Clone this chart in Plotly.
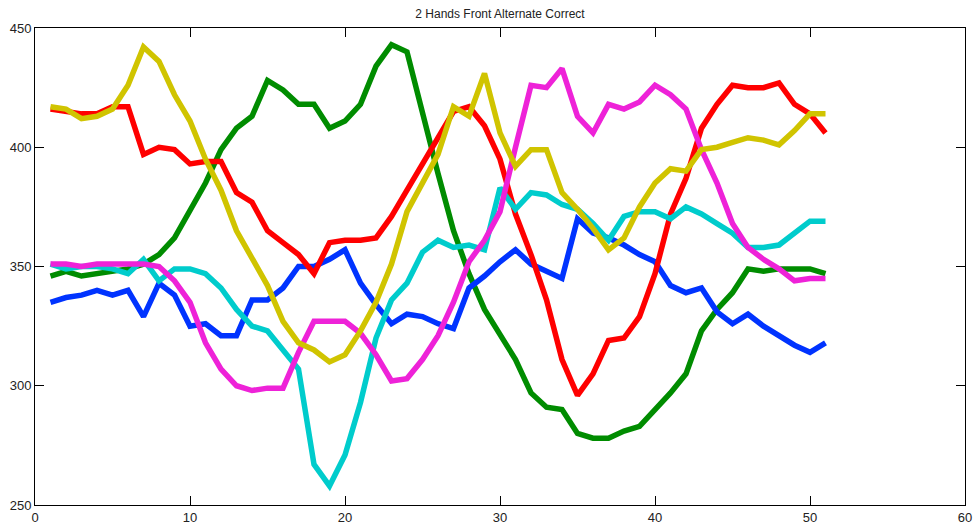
import plotly.graph_objects as go

x_vals = list(range(1, 52))

green = [346, 348, 346, 347, 348, 349, 351, 355, 362, 373, 385, 399, 408, 413, 428, 424, 418, 418, 408, 411,
         418, 434, 443, 440, 414, 389, 365, 347, 332, 321, 311, 297, 291, 290, 280, 278, 278, 281, 283, 290,
         297, 305, 323, 332, 339, 349, 348, 349, 349, 349, 347]
blue = [335, 337, 338, 340, 338, 340, 329, 343, 338, 325, 326, 321, 321, 336, 336, 341, 350, 350, 353, 357,
        343, 334, 326, 330, 329, 326, 324, 341, 346, 352, 357, 351, 348, 345, 370, 364, 362, 359, 355, 352,
        342, 339, 341, 331, 326, 330, 325, 321, 317, 314, 318]
red = [416, 415, 414, 414, 417, 417, 397, 400, 399, 393, 394, 394, 381, 377, 365, 360, 355, 347, 360, 361,
       361, 362, 371, 382, 393, 403, 415, 417, 409, 395, 372, 355, 336, 311, 296, 305, 319, 320, 329, 347,
       372, 387, 408, 418, 426, 425, 425, 427, 418, 414, 406]
cyan = [351, 349, 350, 350, 349, 347, 353, 344, 349, 349, 347, 341, 332, 325, 323, 315, 307, 267, 258, 271,
        293, 320, 336, 343, 356, 361, 358, 359, 357, 383, 374, 381, 380, 376, 374, 368, 361, 371, 373, 373,
        370, 375, 372, 368, 364, 358, 358, 359, 364, 369, 369]
magenta = [351, 351, 350, 351, 351, 351, 351, 350, 344, 335, 318, 307, 300, 298, 299, 299, 314, 327, 327, 327,
           322, 313, 302, 303, 311, 321, 335, 352, 361, 373, 400, 426, 425, 433, 413, 406, 418, 416, 419, 426,
           422, 416, 399, 385, 368, 358, 353, 349, 344, 345, 345]
yellow = [417, 416, 412, 413, 416, 426, 442, 436, 422, 411, 395, 382, 365, 354, 342, 327, 318, 315, 310, 313,
          323, 335, 351, 373, 385, 397, 417, 413, 431, 406, 392, 399, 399, 381, 374, 366, 357, 362, 375, 385,
          391, 390, 399, 400, 402, 404, 403, 401, 407, 414, 414]

series = [
    (green, "#008C00"),
    (blue, "#0033FF"),
    (red, "#FF0000"),
    (cyan, "#00CCCC"),
    (magenta, "#EE22D8"),
    (yellow, "#D0C400"),
]

fig = go.Figure()
for ys, col in series:
    fig.add_trace(go.Scatter(x=x_vals, y=ys, mode="lines",
                             line=dict(color=col, width=5.5, shape="linear"),
                             showlegend=False, hoverinfo="skip"))

axis_common = dict(showgrid=False, zeroline=False, showline=True, linecolor="black", linewidth=1,
                   mirror="ticks", ticks="inside", ticklen=9, tickcolor="black", tickwidth=1,
                   automargin=False,
                   tickfont=dict(family="Liberation Sans, Arial", size=13, color="#222"))

W, H = 975, 525
fig.update_layout(
    width=W, height=H,
    margin=dict(l=35, r=10, t=28, b=20, autoexpand=False),
    paper_bgcolor="white", plot_bgcolor="white",
    title=dict(text="2 Hands Front Alternate Correct", x=0.5, xref="paper",
               y=1 - 14 / H, yref="container", yanchor="middle", automargin=False,
               font=dict(family="Liberation Sans, Arial", size=12, color="#222")),
    xaxis=dict(range=[0, 60], dtick=10, tick0=0, **axis_common),
    yaxis=dict(range=[250, 450], dtick=50, tick0=250, **axis_common),
)

# remove the default 8px page margin so the figure fills the 975x525 window exactly
fig.write_html("out.html",
               config={"displayModeBar": False, "staticPlot": True},
               post_script="document.body.style.margin='0';document.body.style.overflow='hidden';")
